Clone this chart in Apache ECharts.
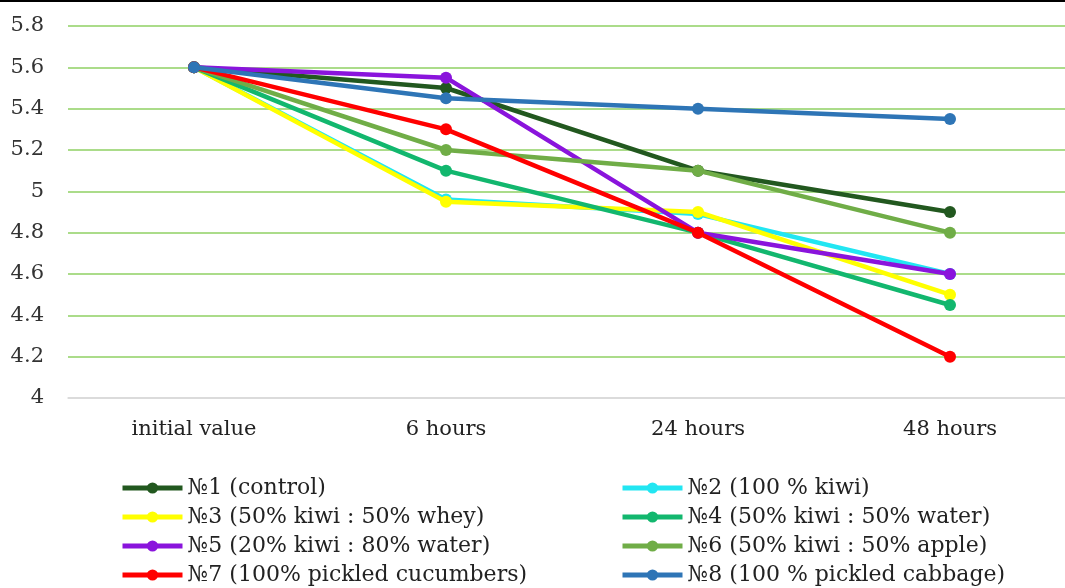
<!DOCTYPE html>
<html><head><meta charset="utf-8">
<script src="https://cdn.jsdelivr.net/npm/echarts@6/dist/echarts.min.js"></script>
<style>html,body{margin:0;padding:0;background:#fff;overflow:hidden}#c{width:1076px;height:588px}</style>
</head><body><div id="c"></div>
<script>
const categories = ['initial value', '6 hours', '24 hours', '48 hours'];
const names = ['№1 (control)', '№2 (100 % kiwi)', '№3 (50% kiwi : 50% whey)', '№4 (50% kiwi : 50% water)',
  '№5 (20% kiwi : 80% water)', '№6 (50% kiwi : 50% apple)', '№7 (100% pickled cucumbers)', '№8 (100 % pickled cabbage)'];
const s1 = [5.6, 5.5, 5.1, 4.9];
const s2 = [5.6, 4.96, 4.89, 4.6];
const s3 = [5.6, 4.95, 4.9, 4.5];
const s4 = [5.6, 5.1, 4.8, 4.45];
const s5 = [5.6, 5.55, 4.8, 4.6];
const s6 = [5.6, 5.2, 5.1, 4.8];
const s7 = [5.6, 5.3, 4.8, 4.2];
const s8 = [5.6, 5.45, 5.4, 5.35];
const colors = ['#22581f', '#22e6f2', '#ffff00', '#12b76e', '#8a14dc', '#70ad47', '#ff0000', '#2e75b6'];
const values = [s1, s2, s3, s4, s5, s6, s7, s8];
const FONT = 'DejaVu Serif';
const G = '#8fd163';

const chart = echarts.init(document.getElementById('c'));
const legendCommon = {
  orient: 'vertical', itemWidth: 60, itemHeight: 14, itemGap: 7,
  lineStyle: {width: 5},
  textStyle: {fontFamily: FONT, fontSize: 22, color: '#222'}, padding: 0
};
chart.setOption({
  animation: false,
  grid: {left: 68, right: 0, top: 26, height: 372, containLabel: false},
  xAxis: {
    type: 'category', data: categories, boundaryGap: true, z: 5,
    axisLine: {lineStyle: {color: '#d9d9d9', width: 1.5}},
    axisTick: {show: false},
    axisLabel: {fontFamily: FONT, fontSize: 21, color: '#222', margin: 21}
  },
  yAxis: {
    type: 'value', min: 4, max: 5.8, interval: 0.2,
    axisLine: {show: false}, axisTick: {show: false},
    axisLabel: {fontFamily: FONT, fontSize: 21, color: '#333', margin: 24,
      formatter: v => String(Math.round(v * 10) / 10)},
    splitLine: {lineStyle: {color: ['#d9d9d9', G, G, G, G, G, G, G, G, G], width: 1.5}}
  },
  legend: [
    Object.assign({left: 120, top: 477, data: [names[0], names[2], names[4], names[6]]}, legendCommon),
    Object.assign({left: 620, top: 477, data: [names[1], names[3], names[5], names[7]]}, legendCommon)
  ],
  graphic: [{type: 'rect', shape: {x: 0, y: 0, width: 1076, height: 2}, style: {fill: '#000'}}],
  series: values.map((d, i) => ({
    name: names[i], type: 'line', data: d,
    symbol: 'circle', symbolSize: 12,
    lineStyle: {width: 4.5, color: colors[i]},
    itemStyle: {color: colors[i]},
    z: 2 + i
  }))
});
</script></body></html>
